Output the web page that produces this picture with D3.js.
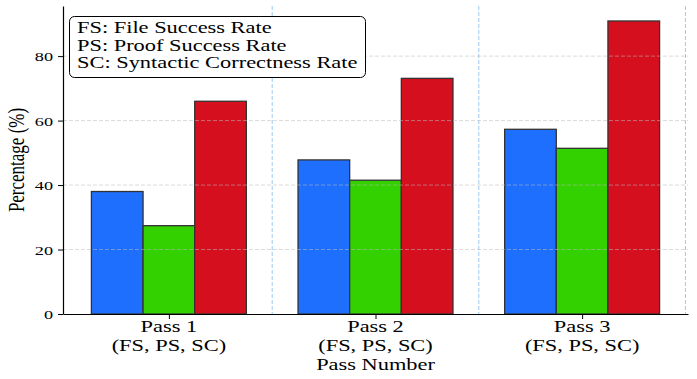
<!DOCTYPE html>
<html>
<head>
<meta charset="utf-8">
<script src="https://cdn.jsdelivr.net/npm/d3@7"></script>
<style>
  body { margin: 0; background: #fff; }
  text { font-family: "Liberation Serif", "Times New Roman", serif; fill: #000; }
</style>
</head>
<body>
<div id="chart"></div>
<script>
// data
var passes = ['Pass 1', 'Pass 2', 'Pass 3'];
var passSubLabel = '(FS, PS, SC)';
var fileSuccess = [38.0, 47.8, 57.3];
var proofSuccess = [27.4, 41.5, 51.4];
var syntacticCorrect = [66.0, 73.1, 90.9];
var seriesNames = ['FS', 'PS', 'SC'];
var yTicks = [0, 20, 40, 60, 80];
var legendLines = ['FS: File Success Rate', 'PS: Proof Success Rate', 'SC: Syntactic Correctness Rate'];

var colors = ['#1f6ffe', '#33d100', '#d60f1e'];
var series = [fileSuccess, proofSuccess, syntacticCorrect];

// picture is stretched wider than tall, so text is too
var SX = 1.4;

var width = 697, height = 379;
var margin = { left: 63, right: 9, top: 6, bottom: 65 };

var x = d3.scaleLinear()
    .domain([-0.5125, 2.5125])
    .range([margin.left, width - margin.right]);

var y = d3.scaleLinear()
    .domain([0, 95.55])
    .range([height - margin.bottom, margin.top]);

var barW = 0.25;

var svg = d3.select('#chart').append('svg')
    .attr('width', width)
    .attr('height', height);

// separators between passes
svg.append('g').selectAll('line')
    .data([0.5, 1.5, 2.5])
    .enter().append('line')
    .attr('x1', function (d) { return x(d); })
    .attr('x2', function (d) { return x(d); })
    .attr('y1', y.range()[1])
    .attr('y2', y.range()[0])
    .attr('stroke', '#9fc8f4')
    .attr('stroke-width', 1)
    .attr('stroke-dasharray', '4,2');

// bars
series.forEach(function (vals, j) {
    svg.append('g').selectAll('rect')
        .data(vals)
        .enter().append('rect')
        .attr('x', function (d, i) { return x(i + (j - 1) * barW - barW / 2); })
        .attr('width', x(barW) - x(0))
        .attr('y', function (d) { return y(d); })
        .attr('height', function (d) { return y(0) - y(d); })
        .attr('fill', colors[j])
        .attr('stroke', '#333')
        .attr('stroke-width', 1.3);
});

// horizontal grid on top of bars
svg.append('g').selectAll('line')
    .data(yTicks.filter(function (d) { return d > 0; }))
    .enter().append('line')
    .attr('x1', x.range()[0])
    .attr('x2', x.range()[1])
    .attr('y1', function (d) { return y(d); })
    .attr('y2', function (d) { return y(d); })
    .attr('stroke', '#bbb')
    .attr('stroke-opacity', 0.6)
    .attr('stroke-width', 0.9)
    .attr('stroke-dasharray', '4,2');

// y axis
var yAxis = svg.append('g')
    .attr('transform', 'translate(' + margin.left + ',0)')
    .call(d3.axisLeft(y).tickValues(yTicks).tickSize(5).tickSizeOuter(0));
yAxis.select('.domain').attr('stroke', '#000').attr('stroke-width', 1.2);
yAxis.selectAll('.tick line').attr('stroke', '#000');
yAxis.selectAll('.tick text')
    .attr('font-size', 13)
    .attr('font-family', '"Liberation Serif", serif')
    .attr('x', -10 / SX)
    .attr('dy', '0.35em')
    .attr('transform', 'scale(' + SX + ',1)');

// x axis
var xAxis = svg.append('g')
    .attr('transform', 'translate(0,' + y(0) + ')')
    .call(d3.axisBottom(x).tickValues([0, 1, 2]).tickFormat('').tickSize(5).tickSizeOuter(0));
xAxis.select('.domain').attr('stroke', '#000').attr('stroke-width', 1.2);
xAxis.selectAll('.tick line').attr('stroke', '#000');

var xl = svg.append('g').selectAll('g')
    .data(passes)
    .enter().append('g')
    .attr('transform', function (d, i) { return 'translate(' + x(i) + ',0) scale(' + SX + ',1)'; });
xl.append('text')
    .attr('y', 332)
    .attr('text-anchor', 'middle')
    .attr('font-size', 16)
    .text(function (d) { return d; });
xl.append('text')
    .attr('y', 351)
    .attr('text-anchor', 'middle')
    .attr('font-size', 16)
    .text(passSubLabel);

// axis titles
svg.append('text')
    .attr('transform', 'translate(' + x(1) + ',370) scale(' + SX + ',1)')
    .attr('text-anchor', 'middle')
    .attr('font-size', 16)
    .text('Pass Number');

svg.append('text')
    .attr('transform', 'translate(24,' + ((y.range()[0] + y.range()[1]) / 2) + ') scale(' + SX + ',1) rotate(-90)')
    .attr('text-anchor', 'middle')
    .attr('font-size', 17)
    .text('Percentage (%)');

// legend box
var lg = svg.append('g');
lg.append('rect')
    .attr('x', 69.5)
    .attr('y', 16.5)
    .attr('width', 296)
    .attr('height', 61)
    .attr('rx', 5)
    .attr('fill', '#fff')
    .attr('stroke', '#000')
    .attr('stroke-width', 1);
lg.selectAll('text')
    .data(legendLines)
    .enter().append('text')
    .attr('transform', function (d, i) { return 'translate(77,' + (33.3 + i * 17.5) + ') scale(' + SX + ',1)'; })
    .attr('font-size', 16)
    .text(function (d) { return d; });
</script>
</body>
</html>
